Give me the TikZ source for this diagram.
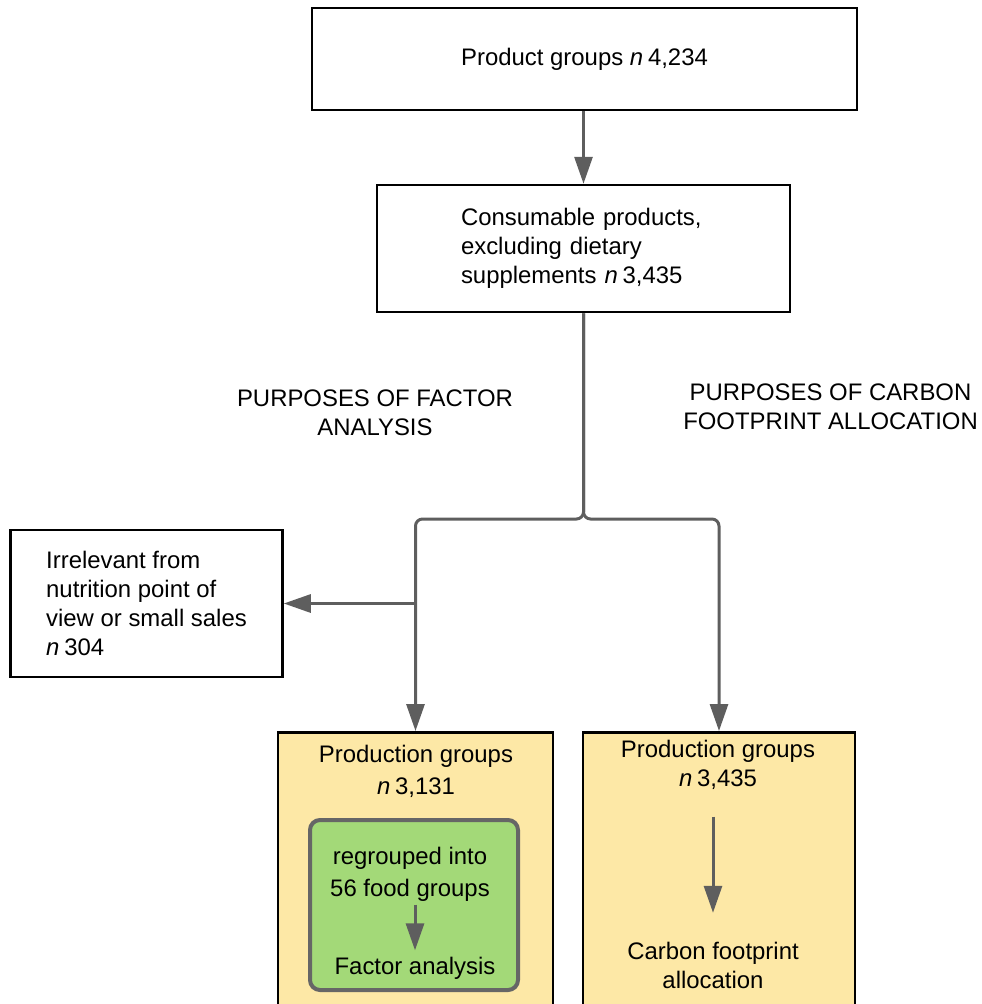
\documentclass[tikz,border=0pt]{standalone}
\usepackage{fontspec}
\setmainfont{Liberation Sans}
\usetikzlibrary{arrows.meta}
\definecolor{linegrey}{HTML}{5E5E5E}
\definecolor{yellowbg}{HTML}{FDE8A6}
\definecolor{greenbg}{HTML}{A3D978}
\definecolor{greenedge}{HTML}{666666}
\newcommand{\cnt}[1]{\textit{n}\hspace{0.2em}#1}
\tikzset{
  plain/.style={draw=black, line width=2.5bp, fill=white},
  ybox/.style={draw=black, line width=2.5bp, fill=yellowbg},
  gbox/.style={draw=greenedge, line width=4bp, fill=greenbg, rounded corners=10bp},
  flow/.style={draw=linegrey, line width=3bp, -{Triangle[length=27bp,width=18bp]}},
  lbl/.style={align=center}
}

\begin{document}
\begin{tikzpicture}[x=1bp, y=-1bp, every node/.style={font=\fontsize{24}{29}\selectfont}]
  \clip (0,0) rectangle (982,1004);
  % Selection boxes
  \node[plain, minimum width=545bp, minimum height=102bp] (pg) at (584.5,59) {Product groups \cnt{4,234}};
  \node[plain, minimum height=127bp, text width=245bp, inner xsep=84bp, align=left] (cons) at (583.5,248.5) {Consumable products,\\excluding dietary\\supplements \cnt{3,435}};
  \node[plain, minimum height=147bp, minimum width=272bp, align=left] (irr) at (146.5,603.5) {Irrelevant from\\nutrition point of\\view or small sales\\\cnt{304}};
  % Purposes
  \node[lbl] (fal) at (375,412.5) {PURPOSES OF FACTOR\\ANALYSIS};
  \node[lbl] (cfl) at (830.5,406.5) {PURPOSES OF CARBON\\FOOTPRINT ALLOCATION};
  % Factor analysis branch
  \node[ybox, minimum width=275bp, minimum height=300bp, anchor=north] (fa) at (415.5,731) {};
  \node[lbl] (fa1) at (416,771) {Production groups\\[3bp]\cnt{3,131}};
  \node[gbox, minimum width=208bp, minimum height=170bp] (grp) at (414,905) {};
  \node[lbl] (rg) at (410,874) {regrouped into\\[3bp]56 food groups};
  \node[lbl] (fan) at (415,968) {Factor analysis};
  % Carbon footprint branch
  \node[ybox, minimum width=272bp, minimum height=300bp, anchor=north] (cf) at (719,731) {};
  \node[lbl] (cf1) at (718,764.5) {Production groups\\\cnt{3,435}};
  \node[lbl] (cf2) at (713,965.5) {Carbon footprint\\allocation};
  % Connectors
  \coordinate (split) at (583.5,519);
  \draw[flow] (pg.south -| cons.north) -- (cons.north);
  \draw[flow, rounded corners=7bp] (cons.south) -- (split) -| (fa.north);
  \draw[flow, rounded corners=7bp] (cons.south) -- (split) -| (cf.north);
  \draw[flow] (fa.north |- irr.east) -- (irr.east);
  \draw[flow, shorten <=0bp, shorten >=3bp] (rg.south -| fan.north) -- (fan.north);
  \draw[flow, shorten <=24bp, shorten >=26bp] (cf2.north |- cf1.south) -- (cf2.north);
\end{tikzpicture}
\end{document}
